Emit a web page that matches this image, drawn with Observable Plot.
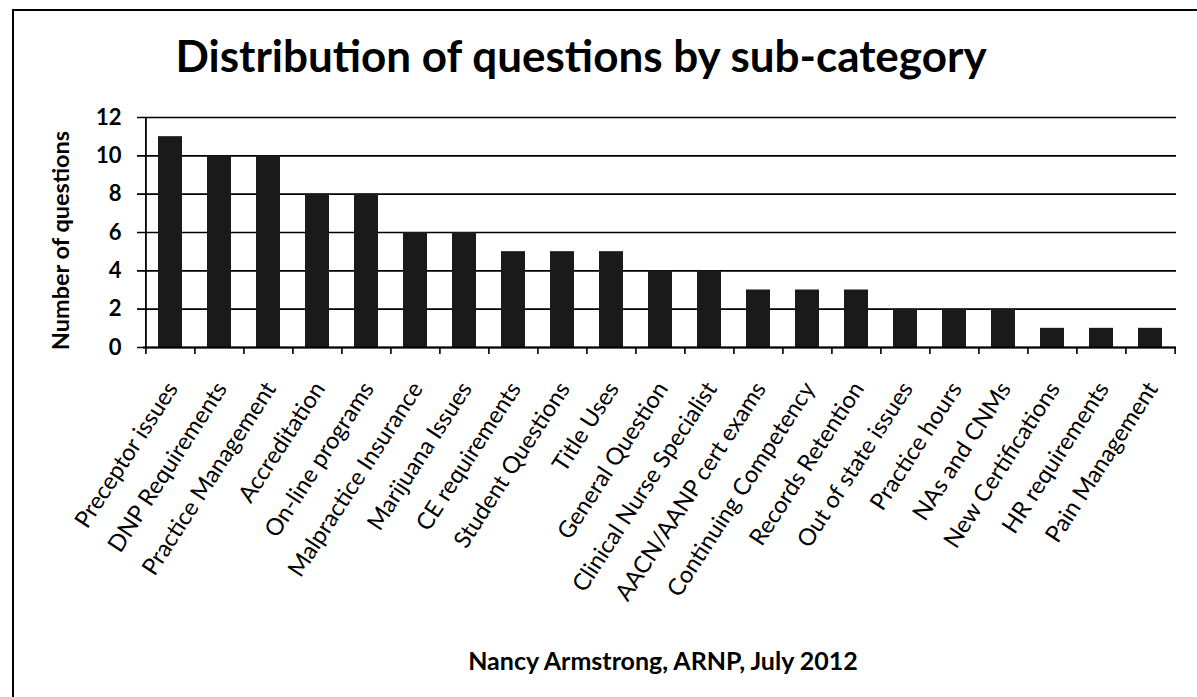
<!DOCTYPE html>
<html>
<head>
<meta charset="utf-8">
<script src="https://cdn.jsdelivr.net/npm/d3@7"></script>
<script src="https://cdn.jsdelivr.net/npm/@observablehq/plot@0.6"></script>
<style>
  html, body { margin: 0; padding: 0; background: #fff; }
  #page { position: relative; width: 1197px; height: 697px; overflow: hidden; font-family: Lato, "Open Sans", sans-serif; color: #000; }
  #frame { position: absolute; left: 12px; top: 9px; right: -4px; bottom: -4px; border-left: 2px solid #000; border-top: 2px solid #000; }
  #title { position: relative; height: 100px; }
  #title span { position: absolute; left: 0; width: 1162px; top: 30px; text-align: center; font-weight: 700; font-size: 44px; line-height: 50px; }
  #caption { position: relative; height: 77px; }
  #caption span { position: absolute; left: 0; width: 1326px; top: 26px; text-align: center; font-weight: 700; font-size: 25px; line-height: 28px; }
  svg { display: block; }
</style>
</head>
<body>
<div id="page">
  <div id="frame"></div>
  <div id="title"><span id="title-text"></span></div>
  <div id="chart"></div>
  <div id="caption"><span id="caption-text"></span></div>
</div>
<script>
// Sub-categories of questions received, in descending order of frequency
const categories = [
  "Preceptor issues", "DNP Requirements", "Practice Management", "Accreditation",
  "On-line programs", "Malpractice Insurance", "Marijuana Issues", "CE requirements",
  "Student Questions", "Title Uses", "General Question", "Clinical Nurse Specialist",
  "AACN/AANP cert exams", "Continuing Competency", "Records Retention",
  "Out of state issues", "Practice hours", "NAs and CNMs", "New Certifications",
  "HR requirements", "Pain Management"
];
const counts = [11, 10, 10, 8, 8, 6, 6, 5, 5, 5, 4, 4, 3, 3, 3, 2, 2, 2, 1, 1, 1];
const yTicks = [0, 2, 4, 6, 8, 10, 12];
const titleText = "Distribution of questions by sub-category";
const yLabel = "Number of questions";
const captionText = "Nancy Armstrong, ARNP, July 2012";

const data = categories.map((c, i) => ({category: c, count: counts[i]}));

document.getElementById("title-text").textContent = titleText;
document.getElementById("caption-text").textContent = captionText;

const width = 1197, height = 520;
const marginLeft = 143, marginRight = 21, marginTop = 17, marginBottom = 273;
const step = (width - marginLeft - marginRight) / categories.length;
const first = categories[0], last = categories[categories.length - 1];

const chart = Plot.plot({
  width, height, marginLeft, marginRight, marginTop, marginBottom,
  style: {fontFamily: "Lato, 'Open Sans', sans-serif", color: "#000", background: "transparent"},
  x: {domain: categories, paddingInner: 0.52, paddingOuter: 0.26},
  y: {domain: [0, 12]},
  marks: [
    // horizontal gridlines, extended left of the axis as tick marks
    Plot.ruleY(yTicks, {y: d => d, stroke: "#000", strokeWidth: 1.6, insetLeft: -6}),
    Plot.barY(data, {x: "category", y: "count", fill: "#1a1a1a"}),
    // vertical value axis line
    Plot.ruleX([first], {x: d => d, y1: 0, y2: 12, dx: -step / 2, stroke: "#000", strokeWidth: 1.8}),
    // category tick marks at band boundaries
    Plot.ruleX(categories, {x: d => d, y1: 0, y2: 0, insetBottom: -7, dx: -step / 2, stroke: "#000", strokeWidth: 1.6}),
    Plot.ruleX([last], {x: d => d, y1: 0, y2: 0, insetBottom: -7, dx: step / 2, stroke: "#000", strokeWidth: 1.6}),
    Plot.ruleY([0], {stroke: "#000", strokeWidth: 1.8}),
    Plot.axisY({ticks: yTicks, tickSize: 0, tickPadding: 22, fontSize: 22, fontWeight: 700, label: null}),
    Plot.axisX({tickSize: 0, tickRotate: -57, tickPadding: 37, dx: 2, fontSize: 23.5, label: null}),
    Plot.text([yLabel], {frameAnchor: "left", text: d => d, textAnchor: "middle", rotate: -90, dx: -82, dy: 8, fontSize: 23.5, fontWeight: 700})
  ]
});

document.getElementById("chart").appendChild(chart);
</script>
</body>
</html>
